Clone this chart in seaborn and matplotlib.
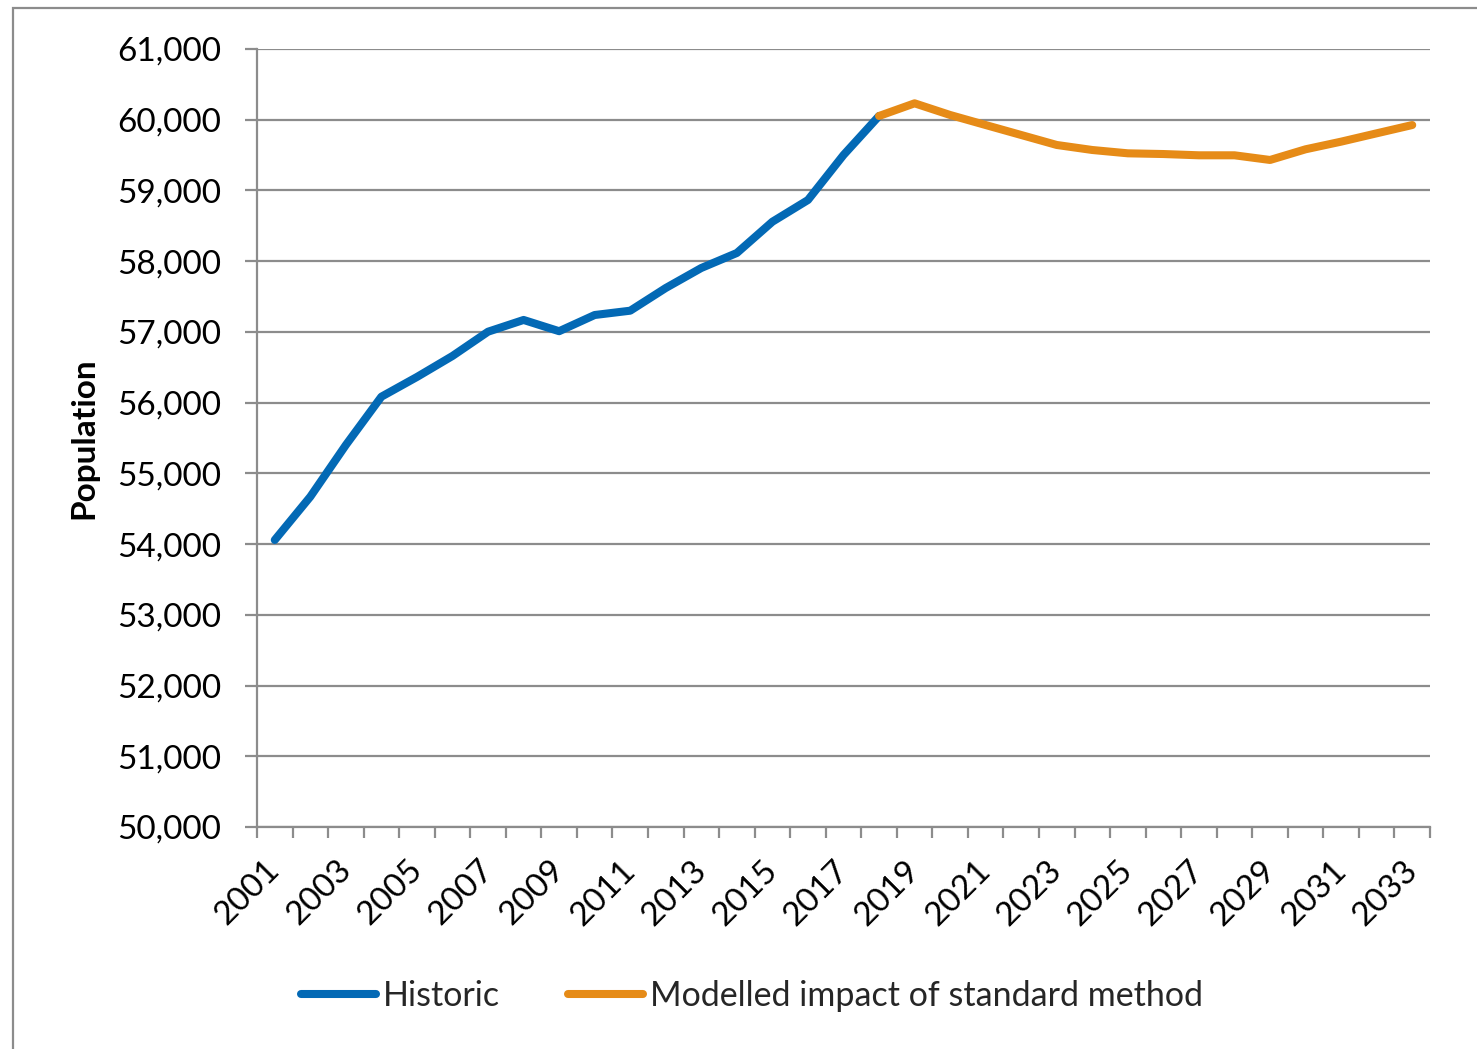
import matplotlib
matplotlib.use("Agg")
import matplotlib.pyplot as plt
import matplotlib.transforms as mtransforms
from matplotlib.patches import Rectangle
from matplotlib.lines import Line2D
import seaborn as sns
import pandas as pd
import numpy as np

hist_years = list(range(2001, 2019))
hist_values = [54058, 54670, 55401, 56084, 56363, 56660, 57003, 57169, 57010,
               57239, 57300, 57621, 57904, 58116, 58558, 58865, 59501, 60053]
model_years = list(range(2018, 2034))
model_values = [60053, 60232, 60067, 59925, 59784, 59643, 59572, 59525, 59515,
                59497, 59497, 59431, 59582, 59690, 59808, 59925]
series_names = ["Historic", "Modelled impact of standard method"]
colors = ["#0369B5", "#E68B17"]
tick_years = list(range(2001, 2034, 2))
y_ticks = list(range(50000, 61001, 1000))

df = pd.concat([
    pd.DataFrame({"Year": hist_years, "Population": hist_values, "Series": series_names[0]}),
    pd.DataFrame({"Year": model_years, "Population": model_values, "Series": series_names[1]}),
])

sns.set_theme(style="white")
plt.rcParams["font.family"] = ["Lato", "DejaVu Sans"]

fig = plt.figure(figsize=(14.77, 10.49), dpi=100)
ax = fig.add_axes([257/1477, 1-827/1049, (1430-257)/1477, (827-49)/1049])

sns.lineplot(data=df, x="Year", y="Population", hue="Series",
             palette=dict(zip(series_names, colors)), linewidth=5.8,
             ax=ax, legend=False, solid_capstyle="round", solid_joinstyle="round")

grid_c = "#8c8c8c"
fs = 24
ax.set_xlim(2000.5, 2033.5)
ax.set_ylim(50000, 61000)
ax.set_yticks(y_ticks)
ax.set_yticklabels([f"{v:,}" for v in y_ticks], fontsize=fs)
ax.yaxis.grid(True, color=grid_c, linewidth=1.6)
ax.set_axisbelow(True)
for s in ["top", "right"]:
    ax.spines[s].set_visible(False)
for s in ["left", "bottom"]:
    ax.spines[s].set_color(grid_c)
    ax.spines[s].set_linewidth(1.6)

ax.tick_params(axis="y", which="major", direction="out", length=8.6, width=1.6,
               color=grid_c, pad=17, left=True, labelcolor="black")
ax.set_xticks(tick_years)
ax.set_xticks(np.arange(2000.5, 2034, 1), minor=True)
ax.set_xticklabels([str(y) for y in tick_years], fontsize=fs, rotation=45,
                   ha="right", va="top")
ax.tick_params(axis="x", which="major", length=0, pad=20, labelcolor="black")
ax.tick_params(axis="x", which="minor", direction="out", length=8, width=1.6,
               color=grid_c, bottom=True)
offset = mtransforms.ScaledTranslation(11/100, 0, fig.dpi_scale_trans)
for lbl in ax.get_xticklabels():
    lbl.set_transform(lbl.get_transform() + offset)

ax.set_xlabel("")
ax.set_ylabel("Population", fontsize=24, fontweight="bold", color="black", labelpad=14)

handles = [Line2D([0], [0], color=c, linewidth=5.8, solid_capstyle="round") for c in colors]
fig.legend(handles, series_names, loc="center", bbox_to_anchor=(752/1477, 1-996/1049),
           ncol=2, frameon=False, fontsize=24.5, handlelength=2.2, handletextpad=0.2,
           columnspacing=2.0)

fig.patches.append(Rectangle((13/1477, -0.1), 1.2, 1-8/1049+0.1, transform=fig.transFigure,
                             fill=False, edgecolor="#8c8c8c", linewidth=1.6))

fig.savefig("out.png", dpi=100, facecolor="white")
